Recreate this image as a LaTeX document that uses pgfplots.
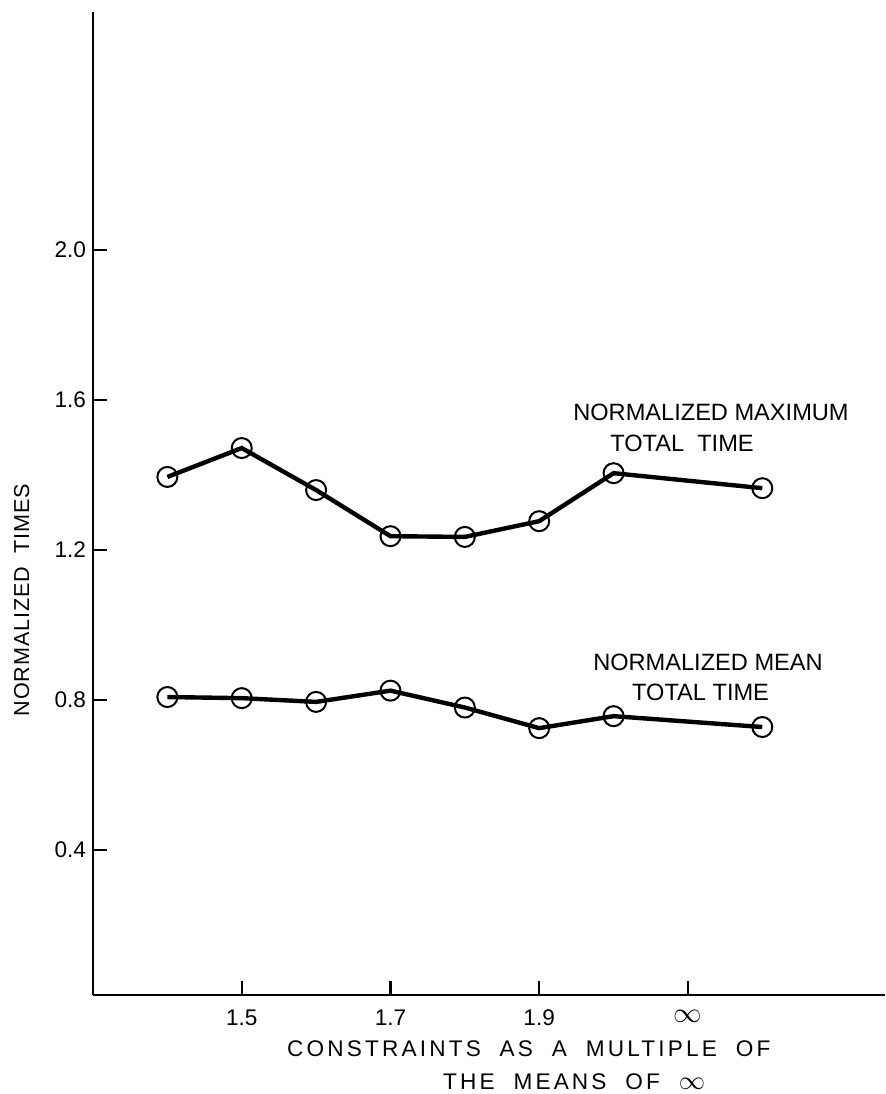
\documentclass[border=0pt]{standalone}
\usepackage{fontspec}
\setmainfont{Liberation Sans}
\usepackage{pgfplots}
\pgfplotsset{compat=1.18}
\begin{document}
\begin{tikzpicture}
\useasboundingbox (-46.5pt,-49.5pt) rectangle (396pt,497.5pt);
\begin{axis}[
  at={(0,0)}, anchor=south west,
  scale only axis, width=396pt, height=491.5pt,
  xmin=1.3, xmax=2.365, ymin=0.0133, ymax=2.635,
  axis x line=bottom, axis y line=left,
  axis line style={-, line width=1.3pt, black},
  xtick={1.5,1.7,1.9,2.1}, xticklabels={1.5,1.7,1.9,{\scalebox{1.3}{$\infty$}}},
  ytick={0.4,0.8,1.2,1.6,2.0}, yticklabels={0.4,0.8,1.2,1.6,2.0},
  tick align=inside, major tick length=7pt,
  tick style={line width=1.1pt, black},
  ticklabel style={font=\fontsize{11.3}{13}\selectfont},
  xticklabel style={yshift=-4pt},
  /pgf/number format/assume math mode=true,
  clip=false,
]
\addplot[line width=2.2pt, black, mark=o, mark size=5pt, mark options={line width=1pt}]
  coordinates {(1.4,1.395) (1.5,1.472) (1.6,1.360) (1.7,1.237) (1.8,1.235) (1.9,1.277) (2.0,1.405) (2.2,1.365)};
\addplot[line width=2.2pt, black, mark=o, mark size=5pt, mark options={line width=1pt}]
  coordinates {(1.4,0.808) (1.5,0.805) (1.6,0.795) (1.7,0.825) (1.8,0.780) (1.9,0.725) (2.0,0.757) (2.2,0.728)};
\node[inner sep=0pt, font=\fontsize{11.8}{14}\selectfont] at (axis cs:2.131,1.568) {NORMALIZED MAXIMUM};
\node[inner sep=0pt, font=\fontsize{11.8}{14}\selectfont] at (axis cs:2.092,1.485) {TOTAL\ \ TIME};
\node[inner sep=0pt, font=\fontsize{11.8}{14}\selectfont] at (axis cs:2.127,0.901) {NORMALIZED MEAN};
\node[inner sep=0pt, font=\fontsize{11.8}{14}\selectfont] at (axis cs:2.117,0.821) {TOTAL TIME};
\node[inner sep=0pt, rotate=90, font=\fontsize{10.8}{13}\selectfont\addfontfeature{LetterSpace=4}] at (axis cs:1.204,1.067) {NORMALIZED\ \ TIMES};
\node[inner sep=0pt, font=\fontsize{11.3}{14}\selectfont\addfontfeature{LetterSpace=14}] at (axis cs:1.886,-0.130) {CONSTRAINTS\ \ AS\ \ A\ \ MULTIPLE\ \ OF};
\node[inner sep=0pt, font=\fontsize{11.3}{14}\selectfont\addfontfeature{LetterSpace=14}] at (axis cs:1.947,-0.218) {THE\ \ MEANS\ \ OF\ \ {\addfontfeature{LetterSpace=0}\scalebox{1.2}{$\infty$}}};
\end{axis}
\end{tikzpicture}
\end{document}
